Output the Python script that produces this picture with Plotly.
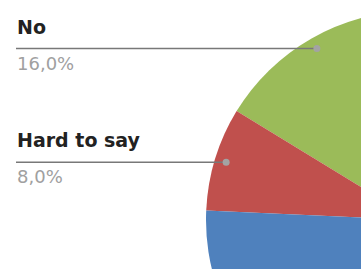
import numpy as np
import plotly.graph_objects as go

labels = ["No", "Hard to say", "Yes"]
values = [16.0, 8.0, 76.0]
colors = ["#9BBB59", "#C0504D", "#4F81BD"]
shown = ["No", "Hard to say"]

# canvas larger than the window: the pie is cropped by the viewport
W, H = 640, 440
cx, cy, R = 415, 220, 209
start = 91.0  # math angle (deg) where the first slice begins, going counterclockwise

total = sum(values)
fig = go.Figure()
fig.add_trace(go.Pie(
    labels=labels, values=values, sort=False, direction="counterclockwise",
    rotation=-(values[0] / total * 360 + (start - 90)),
    marker=dict(colors=colors, line=dict(width=0)),
    textinfo="none", hoverinfo="skip", showlegend=False,
    domain=dict(x=[(cx - R) / W, (cx + R) / W], y=[(H - cy - R) / H, (H - cy + R) / H]),
))

# leader dots at the middle of each labelled slice
cum = np.cumsum(values) - np.array(values) / 2
ang = np.deg2rad(start + cum / total * 360)
dx = cx + 0.945 * R * np.cos(ang)
dy = cy - 0.945 * R * np.sin(ang)

x0 = 16
for i, lab in enumerate(labels):
    if lab not in shown:
        continue
    fig.add_shape(type="line", x0=x0, x1=dx[i], y0=dy[i], y1=dy[i], xref="x", yref="y",
                  line=dict(color="#787878", width=1.5), layer="above")
    fig.add_shape(type="circle", x0=dx[i] - 3.5, x1=dx[i] + 3.5, y0=dy[i] - 3.5, y1=dy[i] + 3.5,
                  xref="x", yref="y", fillcolor="#a3a3a3", line=dict(width=0), layer="above")
    fig.add_annotation(x=x0 - 1, y=dy[i] - 9, xref="x", yref="y", text=lab,
                       xanchor="left", yanchor="bottom", showarrow=False,
                       font=dict(family="DejaVu Sans", size=19, color="#222222", weight="bold"))
    fig.add_annotation(x=x0 - 1, y=dy[i] + 2, xref="x", yref="y",
                       text=f"{values[i]:.1f}%".replace(".", ","),
                       xanchor="left", yanchor="top", showarrow=False,
                       font=dict(family="DejaVu Sans", size=18, color="#a0a0a0"))

fig.update_layout(
    width=W, height=H, margin=dict(l=0, r=0, t=0, b=0),
    paper_bgcolor="white", plot_bgcolor="rgba(0,0,0,0)",
    xaxis=dict(range=[0, W], visible=False, fixedrange=True),
    yaxis=dict(range=[H, 0], visible=False, fixedrange=True),
)
fig.write_html("out.html", config={"displayModeBar": False},
               post_script="document.body.style.margin='0';document.body.style.overflow='hidden';")
